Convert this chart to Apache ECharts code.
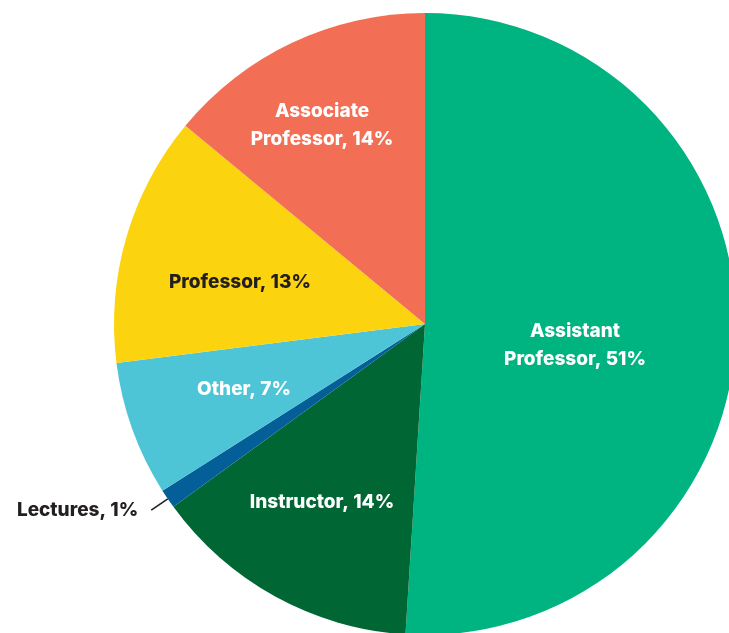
<!DOCTYPE html>
<html>
<head>
<meta charset="utf-8">
<style>
html,body{margin:0;padding:0;background:#fff;}
#chart{width:729px;height:633px;}
</style>
<script src="https://cdn.jsdelivr.net/npm/echarts@6/dist/echarts.min.js"></script>
</head>
<body>
<div id="chart"></div>
<script>
const categories = ['Assistant\nProfessor', 'Instructor', 'Lectures', 'Other', 'Professor', 'Associate\nProfessor'];
const values = [51, 14, 1, 7, 13, 14];
const colors = ['#00B482', '#006634', '#045F98', '#4DC5D7', '#FBD30F', '#F26F55'];
const labelColors = ['#ffffff', '#ffffff', '#231F20', '#ffffff', '#231F20', '#ffffff'];

// label anchor points (layout only)
const labelPos = {0: [575, 345], 1: [322, 502], 3: [244, 389], 4: [240, 282], 5: [322, 125]};

const chart = echarts.init(document.getElementById('chart'));
chart.setOption({
  animation: false,
  series: [{
    type: 'pie',
    center: [425, 324],
    radius: 311,
    startAngle: 90,
    clockwise: true,
    avoidLabelOverlap: false,
    data: categories.map((c, i) => ({
      name: c,
      value: values[i],
      itemStyle: {color: colors[i]},
      label: i === 2 ? {
        position: 'outside',
        color: labelColors[i],
        distanceToLabelLine: 13
      } : {position: 'inside', color: labelColors[i]},
      labelLine: i === 2 ? {show: true, length: 20, length2: 0, lineStyle: {color: '#231F20', width: 1.6}} : {show: false}
    })),
    label: {
      fontFamily: 'Inter',
      fontWeight: 800,
      fontSize: 19,
      lineHeight: 28,
      formatter: p => p.name + ', ' + p.value + '%'
    },
    labelLayout: function (params) {
      const p = labelPos[params.dataIndex];
      if (p) return {x: p[0], y: p[1]};
      return {};
    },
    emphasis: {disabled: true}
  }]
});
</script>
</body>
</html>
